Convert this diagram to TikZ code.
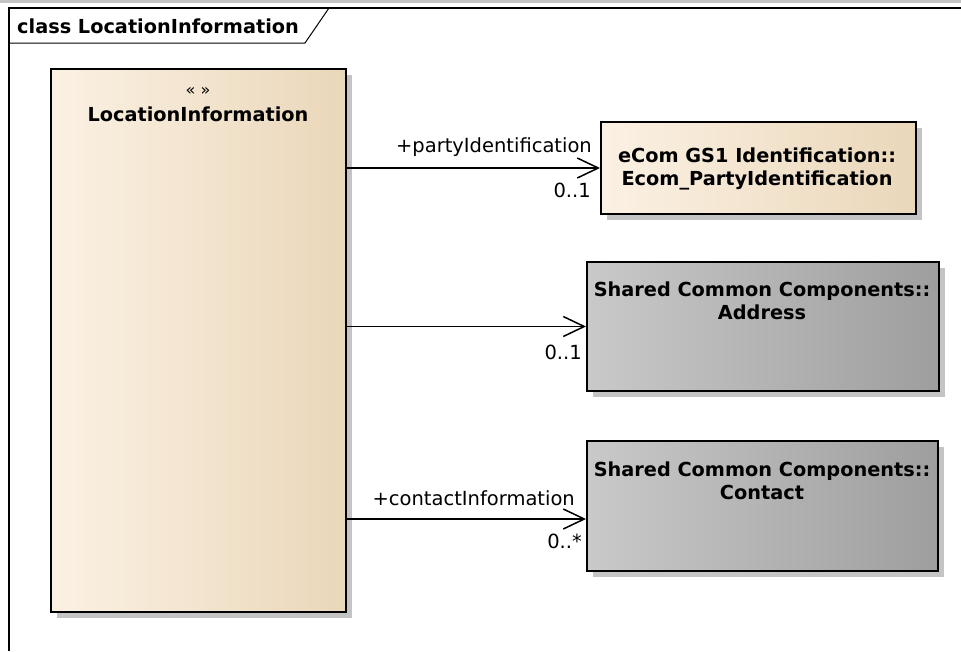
\documentclass[tikz,border=0pt]{standalone}
\usepackage{fontspec}
\setmainfont{DejaVu Sans}
\usetikzlibrary{arrows.meta,shadows}
\definecolor{warmL}{HTML}{FBF1E3}
\definecolor{warmR}{HTML}{EAD7BA}
\definecolor{grayL}{HTML}{C9C9C9}
\definecolor{grayR}{HTML}{9E9E9E}
\definecolor{shadowc}{HTML}{C4C4C4}
\begin{document}
\begin{tikzpicture}[x=1pt,y=-1pt,
  cls/.style={draw=black, line width=2pt, anchor=north west, inner sep=0pt,
    drop shadow={shadow xshift=6pt, shadow yshift=-6pt, fill=shadowc, opacity=1}},
  warm/.style={left color=warmL, middle color=warmL!75!warmR, right color=warmR},
  cool/.style={left color=grayL, middle color=grayL!80!grayR, right color=grayR},
  bold/.style={font=\fontsize{19.3}{22.5}\selectfont\bfseries, align=center, inner sep=0pt},
  lbl/.style={font=\fontsize{19.5}{22}\selectfont, inner sep=0pt},
  assoc/.style={line width=1.6pt, -{Straight Barb[length=21pt,width=20pt,line width=1.5pt]}}]
\useasboundingbox (0,0) rectangle (961,651);
% frame
\fill[shadowc] (0,0) rectangle (961,3);
\draw[line width=1.5pt] (9,651) -- (9,8) -- (961,8);
\draw[line width=1pt] (9,43) -- (305,43) -- (329,8);
\node[bold, anchor=west] (title) at (17,26) {class LocationInformation};
% classes
\node[cls, warm, minimum width=295pt, minimum height=543pt] (loc) at (50,68) {};
\node[lbl, font=\fontsize{16}{18}\selectfont] (locst) at (198,91) {« »};
\node[bold] (locname) at (198,114) {LocationInformation};
\node[cls, warm, minimum width=315pt, minimum height=92pt] (ecom) at (600,121) {};
\node[bold] (ecomname) at (757,169) {eCom GS1 Identification::\\Ecom\_PartyIdentification};
\node[cls, cool, minimum width=352pt, minimum height=129pt] (addr) at (586,261) {};
\node[bold] (addrname) at (762,301) {Shared Common Components::\\Address};
\node[cls, cool, minimum width=351pt, minimum height=130pt] (cont) at (586,440) {};
\node[bold] (contname) at (762,481) {Shared Common Components::\\Contact};
% connectors
\coordinate (c1) at (ecom.west);
\coordinate (c2) at (addr.west);
\coordinate (c3) at ([yshift=-13pt]cont.west);
\draw[assoc] (loc.east |- c1) -- (c1);
\draw[assoc] (loc.east |- c2) -- (c2);
\draw[assoc] (loc.east |- c3) -- (c3);
% labels
\node[lbl, anchor=east] (l1a) at (592,147) {+partyIdentification};
\node[lbl, anchor=east] (l1b) at (591,190) {0..1};
\node[lbl, anchor=east] (l2b) at (582,352) {0..1};
\node[lbl, anchor=east] (l3a) at (575,498) {+contactInformation};
\node[lbl, anchor=east] (l3b) at (582,541) {0..*};
\end{tikzpicture}
\end{document}
